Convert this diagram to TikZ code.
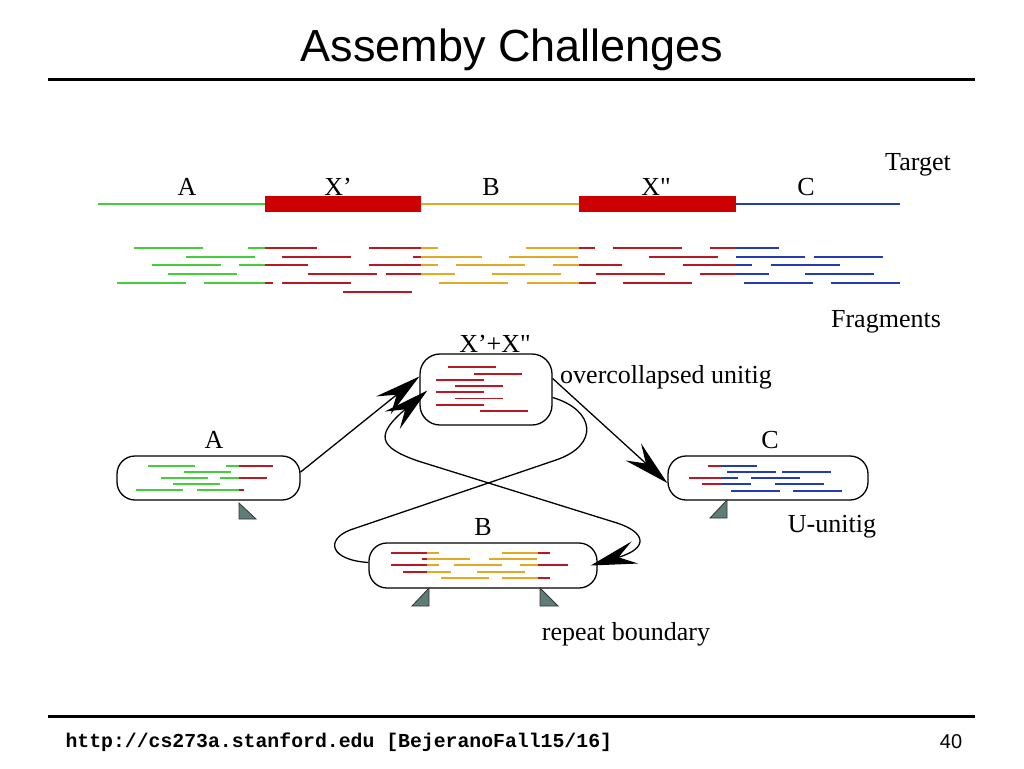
\documentclass[tikz,border=0pt]{standalone}
\usepackage{fontspec}
\setmainfont{Liberation Serif}[Ligatures=TeXOff]
\newfontfamily\slidefont{Liberation Sans}
\newfontfamily\urlfont{Liberation Mono}
\usepackage{tikz}
\usetikzlibrary{arrows.meta}
\tikzset{
  bigtip/.tip={Stealth[length=46pt, width=23pt, inset=17pt]},
  every label/.style={font=\rmfamily}
}
\definecolor{fgreen}{RGB}{70,205,60}
\definecolor{fred}{RGB}{185,25,35}
\definecolor{forange}{RGB}{228,168,35}
\definecolor{fblue}{RGB}{35,60,180}
\definecolor{xred}{RGB}{204,0,0}
\definecolor{bslate}{RGB}{95,125,120}

\begin{document}
\begin{tikzpicture}[x=1pt,y=-1pt]
  \useasboundingbox (0,0) rectangle (1024,768);
  % Define styles for unitigs, fragments and links
  \tikzset{
    lbl/.style={anchor=base, inner sep=0pt, font=\fontsize{26}{30}\selectfont},
    unitig/.style={
      draw,
      rounded corners=18pt,
      fill=white,
      inner sep=0pt,
      line width=1.3pt
    },
    link/.style={draw, line width=1.3pt, -bigtip},
    wire/.style={draw, line width=1.3pt},
    frag/.style={line width=1.7pt},
    ifrag/.style={line width=1.3pt},
    tline/.style={line width=1.4pt},
    rbound/.style={draw=black!80, line width=0.8pt, fill=bslate},
    rule/.style={line width=3pt}
  }

  % Title and footer
  \node[anchor=base, font=\slidefont\fontsize{45}{50}\selectfont] (title) at (512,62) {Assemby Challenges};
  \draw[rule] (48,79) -- (975,79);
  \draw[rule] (48,716) -- (975,716);
  \node[anchor=base west, font=\urlfont\bfseries\fontsize{19.8}{22}\selectfont] (url) at (62,747) {http://cs273a.stanford.edu [BejeranoFall15/16]};
  \node[anchor=base, font=\slidefont\fontsize{20}{22}\selectfont] (pagenum) at (951,748) {40};

  % Target sequence with the two repeat copies
  \draw[tline, fgreen] (98,204) -- (265,204);
  \draw[tline, forange] (421,204) -- (579,204);
  \draw[tline, fblue] (736,204) -- (900,204);
  \fill[xred] (265,196) rectangle (421,212);
  \fill[xred] (579,196) rectangle (736,212);
  \node[lbl] (tA) at (187,195) {A};
  \node[lbl] (tX1) at (338,195) {X’};
  \node[lbl] (tB) at (491,195) {B};
  \node[lbl] (tX2) at (656,195) {X"};
  \node[lbl] (tC) at (806,195) {C};
  \node[lbl] (target) at (918,170) {Target};

  % Fragments, coloured by the stretch they come from
  \foreach \xa/\xb/\col in {0/265/fgreen, 265/421/fred, 421/579/forange, 579/736/fred, 736/1024/fblue} {
    \begin{scope}
      \clip (\xa,240) rectangle (\xb,300);
      \foreach \y/\xs in {248/{134,248,369,526,613,710},
                          257/{186,282,413,509,649,736,814},
                          265/{152,239,369,456,553,683,771},
                          274/{168,308,386,492,596,700,805},
                          283/{117,204,282,439,527,623,744,831},
                          292/{343}}
        \foreach \x in \xs
          \draw[frag, color=\col] (\x,\y) -- ++(69,0);
    \end{scope}
  }
  \node[lbl] (fraglab) at (886,327) {Fragments};

  % Unitigs
  \node[unitig, minimum width=183pt, minimum height=44pt] (A) at (208.5,478) {};
  \node[unitig, minimum width=132pt, minimum height=71pt, rounded corners=20pt] (XX) at (486,389.5) {};
  \node[unitig, minimum width=228pt, minimum height=45pt] (B) at (483,565.5) {};
  \node[unitig, minimum width=200pt, minimum height=44pt] (C) at (768,478) {};
  \node[lbl] (labA) at (214,448) {A};
  \node[lbl] (labXX) at (495,352) {X’+X"};
  \node[lbl] (labB) at (483,535.5) {B};
  \node[lbl] (labC) at (770,448) {C};
  \node[lbl] (ocu) at (666,383) {overcollapsed unitig};
  \node[lbl] (uu) at (832,532) {U-unitig};
  \node[lbl] (rb) at (626,640) {repeat boundary};

  % Fragments inside A
  \foreach \xa/\xb/\col in {0/239/fgreen, 239/1024/fred} {
    \begin{scope}
      \clip (\xa,460) rectangle (\xb,496);
      \foreach \y/\xs in {466/{148,226}, 472/{184}, 478/{161,220}, 484/{173}, 490/{136,197}}
        \foreach \x in \xs
          \draw[ifrag, color=\col] (\x,\y) -- ++(47,0);
    \end{scope}
  }

  % Fragments inside X'+X"
  \foreach \y/\x in {367/448, 374/474, 380/436, 386/455, 392/436, 398.5/455, 405/436, 411/480}
    \draw[ifrag, color=fred] (\x,\y) -- ++(48,0);

  % Fragments inside B
  \foreach \xa/\xb/\col in {0/427/fred, 427/538/forange, 538/1024/fred} {
    \begin{scope}
      \clip (\xa,548) rectangle (\xb,584);
      \foreach \y/\xs in {553/{391,502}, 559/{422,489}, 565/{391,454,520}, 572/{403,477}, 578/{441,502}}
        \foreach \x in \xs
          \draw[ifrag, color=\col] (\x,\y) -- ++(48,0);
    \end{scope}
  }

  % Fragments inside C
  \foreach \xa/\xb/\col in {0/722/fred, 722/1024/fblue} {
    \begin{scope}
      \clip (\xa,461) rectangle (\xb,496);
      \foreach \y/\xs in {466/{708}, 472/{727,782}, 478/{689,751}, 484/{702,775}, 491/{731,793}}
        \foreach \x in \xs
          \draw[ifrag, color=\col] (\x,\y) -- ++(49,0);
    \end{scope}
  }

  % Repeat boundaries
  \draw[rbound] (239,503) -- (239,519) -- (256,519) -- cycle;
  \draw[rbound] (727,500) -- (727,518) -- (710,518) -- cycle;
  \draw[rbound] (429,588) -- (429,606) -- (412,606) -- cycle;
  \draw[rbound] (540,588) -- (540,606) -- (558,606) -- cycle;

  % Links between unitigs
  \draw[link] ([yshift=6pt]A.east) -- ([yshift=13pt]XX.west);
  \draw[link] ([yshift=11pt]XX.east) -- ([yshift=-5pt]C.west);
  \draw[link, bigtip-bigtip] ([xshift=8pt,yshift=-1pt]XX.west) .. controls (375,435) and (378,447) .. (418,461)
    -- (617,523) .. controls (645,532) and (650,548) .. ([xshift=-7pt]B.east);
  \draw[wire] ([yshift=-8pt]XX.east) .. controls (595,410) and (600,445) .. (556,460)
    -- (350,530) .. controls (325,540) and (330,560) .. ([yshift=3pt]B.west);
\end{tikzpicture}
\end{document}
